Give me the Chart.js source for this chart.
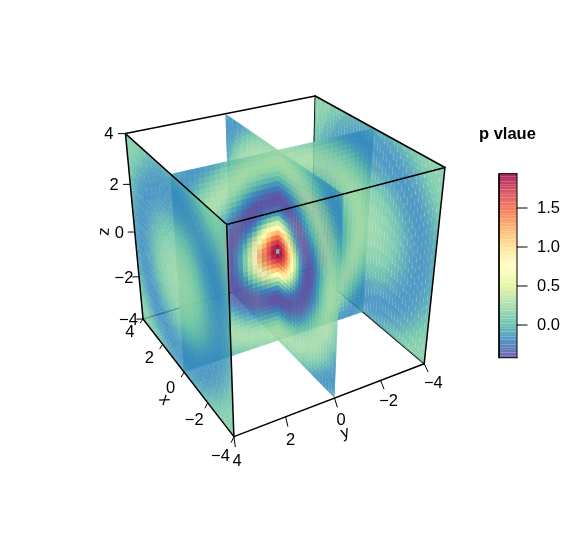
<!DOCTYPE html>
<html>
<head>
<meta charset="utf-8">
<title>p vlaue</title>
<script src="https://cdn.jsdelivr.net/npm/chart.js@4"></script>
<style>
  html, body { margin: 0; padding: 0; background: #fff; }
  #chart { display: block; }
</style>
</head>
<body>
<canvas id="chart" width="574" height="555"></canvas>
<script>
// values, in hundredths, one quadrant (row/col = distance from the slice centre)
const midSliceValues = [
  [5,189,173,147,118,80,45,13,-13,-31,-40,-42,-37,-26,-13,1,12,21,25,24,20],
  [189,182,167,142,111,77,42,11,-14,-32,-40,-42,-37,-25,-12,1,12,21,25,24,20],
  [173,167,151,127,99,66,35,6,-18,-33,-40,-41,-35,-24,-11,2,13,21,25,24,19],
  [147,142,127,107,80,51,22,-3,-23,-36,-41,-40,-33,-22,-9,4,15,22,25,23,18],
  [118,111,99,80,57,32,8,-14,-30,-39,-42,-39,-30,-18,-5,6,17,23,25,22,17],
  [80,77,66,51,32,11,-8,-24,-35,-41,-41,-36,-26,-14,-1,10,19,24,25,21,15],
  [45,42,35,22,8,-8,-22,-33,-40,-42,-39,-31,-21,-9,4,13,21,25,24,20,14],
  [13,11,6,-3,-14,-24,-33,-39,-41,-40,-35,-25,-14,-3,8,17,23,25,23,18,11],
  [-13,-14,-18,-23,-30,-35,-40,-41,-40,-37,-28,-18,-7,4,13,21,25,24,21,15,9],
  [-31,-32,-33,-36,-39,-41,-42,-40,-37,-29,-20,-10,1,10,18,23,25,23,19,13,5],
  [-40,-40,-40,-41,-42,-41,-39,-35,-28,-20,-11,-1,8,16,22,25,24,21,16,9,1],
  [-42,-42,-41,-40,-39,-36,-31,-25,-18,-10,-1,7,15,21,24,25,22,18,12,5,-3],
  [-37,-37,-35,-33,-30,-26,-21,-14,-7,1,8,15,21,24,25,23,20,14,7,0,-7],
  [-26,-25,-24,-22,-18,-14,-9,-3,4,10,16,21,24,25,24,21,15,9,2,-4,-11],
  [-13,-12,-11,-9,-5,-1,4,8,13,18,22,24,25,24,21,16,11,4,-2,-9,-14],
  [1,1,2,4,6,10,13,17,21,23,25,25,23,21,16,11,5,-1,-7,-13,-16],
  [12,12,13,15,17,19,21,23,25,25,24,22,20,15,11,5,-1,-7,-12,-15,-17],
  [21,21,21,22,23,24,25,25,24,23,21,18,14,9,4,-1,-7,-12,-15,-17,-18],
  [25,25,25,25,25,25,24,23,21,19,16,12,7,2,-2,-7,-12,-15,-17,-18,-16],
  [24,24,24,23,22,21,20,18,15,13,9,5,0,-4,-9,-13,-15,-17,-18,-16,-14],
  [20,20,19,18,17,15,14,11,9,5,1,-3,-7,-11,-14,-16,-17,-18,-16,-14,-10]
];
const faceSliceValues = [
  [20,20,19,18,17,15,14,11,9,5,1,-3,-7,-11,-14,-16,-17,-18,-16,-14,-10],
  [20,20,19,18,17,15,14,11,8,5,1,-3,-7,-11,-14,-16,-17,-18,-16,-14,-10],
  [19,19,19,18,16,15,13,10,8,4,0,-3,-7,-12,-14,-16,-17,-18,-16,-13,-10],
  [18,18,18,17,15,14,12,9,7,3,0,-4,-8,-12,-14,-16,-18,-17,-16,-13,-9],
  [17,17,16,15,14,13,11,8,5,2,-2,-5,-9,-13,-15,-17,-18,-17,-15,-13,-9],
  [15,15,15,14,13,11,9,6,3,0,-3,-7,-11,-13,-16,-17,-18,-17,-15,-12,-8],
  [14,14,13,12,11,9,7,4,1,-2,-5,-9,-12,-14,-16,-17,-18,-16,-14,-11,-7],
  [11,11,10,9,8,6,4,1,-1,-4,-7,-11,-13,-15,-17,-18,-17,-15,-13,-9,-5],
  [9,8,8,7,5,3,1,-1,-4,-7,-10,-13,-15,-16,-17,-18,-16,-15,-12,-8,-3],
  [5,5,4,3,2,0,-2,-4,-7,-10,-12,-14,-16,-17,-18,-17,-15,-13,-10,-6,-1],
  [1,1,0,0,-2,-3,-5,-7,-10,-12,-14,-16,-17,-18,-17,-16,-14,-12,-8,-4,1],
  [-3,-3,-3,-4,-5,-7,-9,-11,-13,-14,-16,-17,-18,-18,-17,-15,-13,-9,-6,-1,3],
  [-7,-7,-7,-8,-9,-11,-12,-13,-15,-16,-17,-18,-18,-17,-15,-13,-10,-7,-3,1,5],
  [-11,-11,-12,-12,-13,-13,-14,-15,-16,-17,-18,-18,-17,-15,-13,-11,-8,-4,0,4,7],
  [-14,-14,-14,-14,-15,-16,-16,-17,-17,-18,-17,-17,-15,-13,-11,-8,-5,-1,3,6,9],
  [-16,-16,-16,-16,-17,-17,-17,-18,-18,-17,-16,-15,-13,-11,-8,-5,-2,2,6,8,11],
  [-17,-17,-17,-18,-18,-18,-18,-17,-16,-15,-14,-13,-10,-8,-5,-2,2,5,8,11,12],
  [-18,-18,-18,-17,-17,-17,-16,-15,-15,-13,-12,-9,-7,-4,-1,2,5,8,11,12,13],
  [-16,-16,-16,-16,-15,-15,-14,-13,-12,-10,-8,-6,-3,0,3,6,8,11,12,13,13],
  [-14,-14,-13,-13,-13,-12,-11,-9,-8,-6,-4,-1,1,4,6,8,11,12,13,13,13],
  [-10,-10,-10,-9,-9,-8,-7,-5,-3,-1,1,3,5,7,9,11,12,13,13,13,12]
];
const axisTicks = [-4, -2, 0, 2, 4];
const legendTicks = [0, 0.5, 1, 1.5];
const valueRange = [-0.42, 1.94];
const spectral = ['#5E4FA2','#3288BD','#66C2A5','#ABDDA4','#E6F598','#FFFFBF','#FEE08B','#FDAE61','#F46D43','#D53E4F','#9E0142'];

const CELL_ALPHA = 0.86;
const CELLS = 41;
const SEAM = 0.012;
const FONT = '"Liberation Sans", Arial, sans-serif';

// camera of the box
const view = { azimuth: 1.0495, tilt: 0.5187, dist: 7.7775, zoom: 109.36, cx: 278.18, cy: 251.22 };

function project(x, y, z) {
  const c = Math.cos(view.azimuth), s = Math.sin(view.azimuth);
  const X = x / 4, Y = y / 4, Z = z / 4;
  const xv = -c * X - s * Y;
  const yv = (s * X - c * Y) * Math.sin(view.tilt) + Z * Math.cos(view.tilt);
  const depth = (-s * X + c * Y) * Math.cos(view.tilt) + Z * Math.sin(view.tilt);
  const k = 1 / (1 - depth / view.dist);
  return { x: view.cx + view.zoom * xv * k, y: view.cy - view.zoom * yv * k, depth };
}

function hexToRgb(hex) {
  return [1, 3, 5].map(i => parseInt(hex.slice(i, i + 2), 16));
}

function colorFor(value) {
  const t = Math.min(1, Math.max(0, (value - valueRange[0]) / (valueRange[1] - valueRange[0])));
  const pos = t * (spectral.length - 1);
  const i = Math.min(spectral.length - 2, Math.floor(pos));
  const a = hexToRgb(spectral[i]), b = hexToRgb(spectral[i + 1]);
  const rgb = a.map((v, n) => Math.round(v + (b[n] - v) * (pos - i)));
  return `rgba(${rgb[0]},${rgb[1]},${rgb[2]},${CELL_ALPHA})`;
}

function cellDataset(corners, color, xAxisID, yAxisID) {
  return {
    type: 'line',
    data: corners,
    backgroundColor: color,
    borderWidth: 0,
    pointRadius: 0,
    fill: 'shape',
    tension: 0,
    xAxisID: xAxisID || 'x',
    yAxisID: yAxisID || 'y'
  };
}

function lineDataset(from, to, width, color) {
  return {
    type: 'line',
    data: [from, to],
    borderColor: color || '#000',
    borderWidth: width,
    pointRadius: 0,
    fill: false,
    borderCapStyle: 'round'
  };
}

function buildSlice(values, place) {
  const step = 8 / CELLS;
  const cells = [];
  for (let i = 0; i < CELLS; i++) {
    for (let j = 0; j < CELLS; j++) {
      const u0 = -4 + i * step, u1 = u0 + step + (i < CELLS - 1 ? SEAM : 0);
      const w0 = -4 + j * step, w1 = w0 + step + (j < CELLS - 1 ? SEAM : 0);
      const value = values[Math.abs(i - 20)][Math.abs(j - 20)] / 100;
      const corners = [place(u0, w0), place(u1, w0), place(u1, w1), place(u0, w1)].map(p => project(p[0], p[1], p[2]));
      const mid = place((u0 + u1) / 2, (w0 + w1) / 2);
      cells.push({ depth: project(mid[0], mid[1], mid[2]).depth, dataset: cellDataset(corners.map(c => ({ x: c.x, y: c.y })), colorFor(value)) });
    }
  }
  return cells;
}

function edge(a, b, width, color) {
  const p = project(a[0], a[1], a[2]), q = project(b[0], b[1], b[2]);
  return lineDataset({ x: p.x, y: p.y }, { x: q.x, y: q.y }, width, color);
}

function buildDatasets() {
  const cells = [
    ...buildSlice(midSliceValues, (u, w) => [0, u, w]),
    ...buildSlice(midSliceValues, (u, w) => [u, 0, w]),
    ...buildSlice(faceSliceValues, (u, w) => [u, 4, w]),
    ...buildSlice(faceSliceValues, (u, w) => [u, -4, w])
  ].sort((a, b) => b.depth - a.depth).map(c => c.dataset);

  // first dataset ends up on top
  const front = [
    edge([4, 4, 4], [-4, 4, 4], 1.5), edge([-4, 4, 4], [-4, -4, 4], 1.5),
    edge([-4, -4, 4], [4, -4, 4], 1.5), edge([4, -4, 4], [4, 4, 4], 1.5),
    edge([4, 4, 4], [4, 4, -4], 1.5), edge([-4, 4, 4], [-4, 4, -4], 1.5),
    edge([-4, -4, 4], [-4, -4, -4], 1.5),
    edge([4, 4, -4], [-4, 4, -4], 1.5), edge([-4, 4, -4], [-4, -4, -4], 1.5)
  ];
  axisTicks.forEach(t => {
    front.push(edge([t, 4, -4], [t - 0.2, 4.2, -4], 1));
    front.push(edge([-4, t, -4], [-4.45, t + 0.18, -4], 1));
    front.push(edge([4, 4, t], [4.12, 4.22, t], 1));
  });

  const hidden = [
    edge([4, 4, -4], [4, -4, -4], 1.5), edge([4, -4, -4], [-4, -4, -4], 1.5), edge([4, -4, -4], [4, -4, 4], 1.5)
  ];

  // colour key drawn on the value axis
  const key = [];
  const levels = 70;
  const binH = (valueRange[1] - valueRange[0]) / levels;
  for (let i = 0; i < levels; i++) {
    const v0 = valueRange[0] + i * binH;
    key.push(cellDataset([
      { x: 499, y: v0 }, { x: 517, y: v0 }, { x: 517, y: v0 + binH }, { x: 499, y: v0 + binH }
    ], colorFor(v0 + binH / 2), 'x', 'value'));
  }
  const keyLine = (x0, v0, x1, v1, w) => Object.assign(lineDataset({ x: x0, y: v0 }, { x: x1, y: v1 }, w), { yAxisID: 'value', borderCapStyle: 'square' });
  const keyBox = [
    keyLine(499, valueRange[0], 517, valueRange[0], 1), keyLine(517, valueRange[0], 517, valueRange[1], 1),
    keyLine(517, valueRange[1], 499, valueRange[1], 1), keyLine(499, valueRange[1], 499, valueRange[0], 1)
  ];
  legendTicks.forEach(t => keyBox.push(keyLine(517, t, 527, t, 1)));

  return [...keyBox, ...key, ...front, ...cells, ...hidden];
}

const tickLabels = {
  id: 'tickLabels',
  afterDatasetsDraw(chart) {
    const ctx = chart.ctx;
    const sx = chart.scales.x, sy = chart.scales.y, sv = chart.scales.value;
    const put = (text, px, py, rot) => {
      ctx.save();
      ctx.translate(px, py);
      ctx.rotate(rot || 0);
      ctx.font = `16.5px ${FONT}`;
      ctx.fillStyle = '#000';
      ctx.textAlign = 'center';
      ctx.textBaseline = 'middle';
      ctx.fillText(text, 0, 0);
      ctx.restore();
    };
    const at3d = (text, x, y, z, rot) => {
      const p = project(x, y, z);
      put(text, sx.getPixelForValue(p.x), sy.getPixelForValue(p.y), rot);
    };
    const fmt = t => String(t).replace('-', '\u2212');

    axisTicks.forEach(t => {
      at3d(fmt(t), t - 0.6, 4.8, -4);
      at3d(fmt(t), -5.1, t + 0.45, -4);
      at3d(fmt(t), 4.2, 4.55, t);
    });
    at3d('x', -1.1, 5.25, -4, 0.93);
    at3d('y', -5.69, 0.68, -4, -0.3);
    at3d('z', 4.61, 5.0, 0, -1.5);

    ctx.save();
    ctx.font = `bold 16.5px ${FONT}`;
    ctx.fillStyle = '#000';
    ctx.textAlign = 'left';
    ctx.textBaseline = 'middle';
    ctx.fillText('p vlaue', 479, sy.getPixelForValue(134));
    ctx.restore();

    ctx.save();
    ctx.font = `16.5px ${FONT}`;
    ctx.fillStyle = '#000';
    ctx.textAlign = 'left';
    ctx.textBaseline = 'middle';
    legendTicks.forEach(t => {
      ctx.fillText(t.toFixed(1), sx.getPixelForValue(537), sv.getPixelForValue(t));
    });
    ctx.restore();
  }
};

new Chart(document.getElementById('chart'), {
  data: { datasets: buildDatasets() },
  plugins: [tickLabels],
  options: {
    responsive: false,
    animation: false,
    devicePixelRatio: 1,
    events: [],
    layout: { padding: 0 },
    elements: { line: { tension: 0 } },
    plugins: { legend: { display: false }, tooltip: { enabled: false } },
    scales: {
      x: { type: 'linear', min: 0, max: 574, display: false },
      y: { type: 'linear', min: 0, max: 555, reverse: true, display: false },
      // 78 px per unit, zero sitting at 325 px from the top
      value: { type: 'linear', min: -230 / 78, max: 325 / 78, display: false }
    }
  }
});
</script>
</body>
</html>
